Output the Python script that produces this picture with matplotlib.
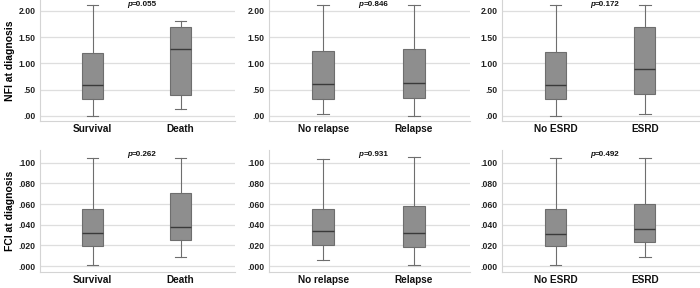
import matplotlib
matplotlib.use("Agg")
import matplotlib.pyplot as plt

plt.rcParams["font.family"] = ["Liberation Sans", "DejaVu Sans"]

# groupes (3 comparaisons, 2 groupes chacune)
groupes = [["Survival", "Death"], ["No relapse", "Relapse"], ["No ESRD", "ESRD"]]

# NFI at diagnosis : min, Q1, médiane, Q3, max
nfi_min = [0.00, 0.13, 0.03, 0.00, 0.00, 0.04]
nfi_q1 = [0.32, 0.40, 0.32, 0.34, 0.32, 0.41]
nfi_med = [0.59, 1.27, 0.60, 0.63, 0.58, 0.89]
nfi_q3 = [1.19, 1.69, 1.24, 1.27, 1.21, 1.69]
nfi_max = [2.11, 1.81, 2.11, 2.11, 2.11, 2.11]
nfi_p = ["0.055", "0.846", "0.172"]

# FCI at diagnosis
fci_min = [0.001, 0.0084, 0.0058, 0.0006, 0.0013, 0.009]
fci_q1 = [0.0194, 0.0248, 0.0205, 0.0185, 0.0196, 0.0232]
fci_med = [0.0316, 0.0374, 0.0335, 0.0316, 0.0312, 0.0357]
fci_q3 = [0.0548, 0.0710, 0.0553, 0.0585, 0.0553, 0.0605]
fci_max = [0.1048, 0.1050, 0.1038, 0.1054, 0.1045, 0.1045]
fci_p = ["0.262", "0.931", "0.492"]

nfi_ticks = [0.0, 0.5, 1.0, 1.5, 2.0]
nfi_ticklabels = [".00", ".50", "1.00", "1.50", "2.00"]
fci_ticks = [0.0, 0.02, 0.04, 0.06, 0.08, 0.10]
fci_ticklabels = [".000", ".020", ".040", ".060", ".080", ".100"]

W, H = 700, 288
fig = plt.figure(figsize=(7, 2.88), dpi=100)

gauches = [40, 269, 502]
largeurs = [195, 201, 198]


def panneau(x0, larg, y_haut, y_bas, lo, q1, med, q3, hi, noms, p, ticks, ticklabels, ylim):
    ax = fig.add_axes([x0 / W, (H - y_bas) / H, larg / W, (y_bas - y_haut) / H])
    stats = []
    for i in range(2):
        stats.append({"whislo": lo[i], "q1": q1[i], "med": med[i],
                      "q3": q3[i], "whishi": hi[i], "fliers": [], "label": noms[i]})
    ax.bxp(stats, positions=[1, 2], widths=0.24, patch_artist=True, showfliers=False,
           boxprops=dict(facecolor="#8e8e8e", edgecolor="#6e6e6e", linewidth=0.8),
           medianprops=dict(color="#3a3a3a", linewidth=1.0),
           whiskerprops=dict(color="#6e6e6e", linewidth=0.8),
           capprops=dict(color="#6e6e6e", linewidth=0.8), capwidths=0.13)
    ax.set_xlim(0.4, 2.62)
    ax.set_ylim(*ylim)
    ax.set_yticks(ticks)
    ax.set_yticklabels(ticklabels)
    ax.yaxis.grid(True, color="#dedede", linewidth=0.9)
    ax.set_axisbelow(True)
    for s in ["top", "right"]:
        ax.spines[s].set_visible(False)
    for s in ["left", "bottom"]:
        ax.spines[s].set_color("#d4d4d4")
        ax.spines[s].set_linewidth(0.8)
    ax.tick_params(axis="y", length=0, pad=3, labelsize=6.2, labelcolor="#222222")
    ax.tick_params(axis="x", length=0, pad=2.5, labelsize=7.2, labelcolor="#111111")
    for t in ax.get_yticklabels() + ax.get_xticklabels():
        t.set_fontweight("bold")
    ax.text(0.47, 0.965, "p", transform=ax.transAxes, ha="right", va="center",
            fontsize=5.8, fontweight="bold", fontstyle="italic", color="#111111")
    ax.text(0.47, 0.965, "=" + p, transform=ax.transAxes, ha="left", va="center",
            fontsize=5.8, fontweight="bold", color="#111111")
    return ax


for k in range(3):
    sl = slice(2 * k, 2 * k + 2)
    ax = panneau(gauches[k], largeurs[k], 0, 121, nfi_min[sl], nfi_q1[sl], nfi_med[sl],
                 nfi_q3[sl], nfi_max[sl], groupes[k], nfi_p[k], nfi_ticks, nfi_ticklabels,
                 (-0.101, 2.21))
    if k == 0:
        ax.set_ylabel("NFI at diagnosis", fontsize=7.5, fontweight="bold", labelpad=3)
    ax = panneau(gauches[k], largeurs[k], 150, 272, fci_min[sl], fci_q1[sl], fci_med[sl],
                 fci_q3[sl], fci_max[sl], groupes[k], fci_p[k], fci_ticks, fci_ticklabels,
                 (-0.0058, 0.1123))
    if k == 0:
        ax.set_ylabel("FCI at diagnosis", fontsize=7.5, fontweight="bold", labelpad=3)

fig.savefig("out.png", dpi=100)
